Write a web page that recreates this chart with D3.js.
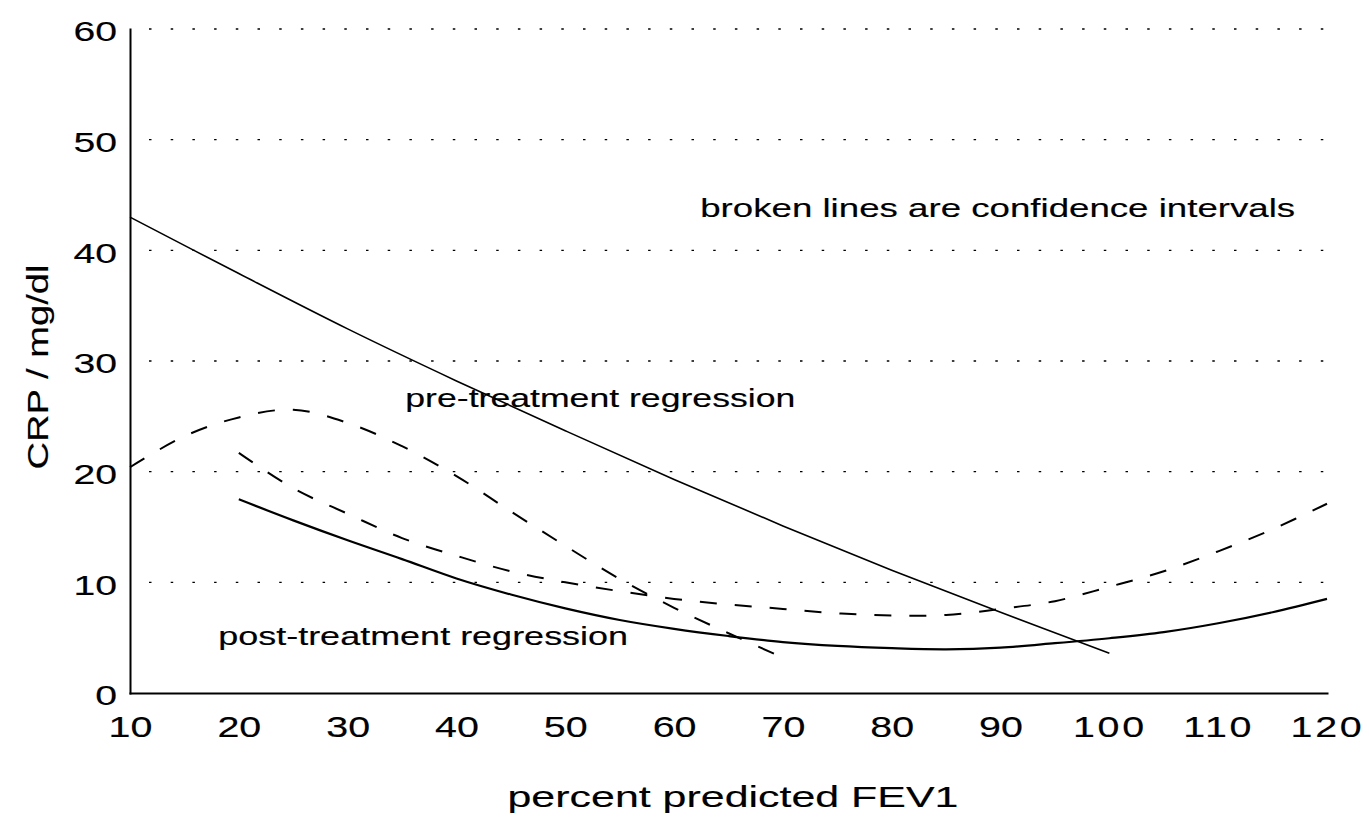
<!DOCTYPE html>
<html>
<head>
<meta charset="utf-8">
<script src="https://cdn.jsdelivr.net/npm/d3@7"></script>
<style>
  html, body { margin: 0; padding: 0; background: #fff; }
  svg text { font-family: "Liberation Sans", Arial, Helvetica, sans-serif; fill: #000; stroke: #000; stroke-width: 0.15px; }
</style>
</head>
<body>
<div id="chart"></div>
<script>
// tick values
const xTicks = [10, 20, 30, 40, 50, 60, 70, 80, 90, 100, 110, 120];
const yTicks = [0, 10, 20, 30, 40, 50, 60];
const gridTicks = [10, 20, 30, 40, 50, 60];

// pre-treatment regression (solid)
const preFev = [10, 20, 30, 40, 50, 60, 70, 80, 90, 100];
const preCrp = [43.0, 37.9, 32.9, 28.2, 23.7, 19.3, 15.1, 11.1, 7.3, 3.6];

// post-treatment regression (solid)
const postFev = [20, 25, 30, 35, 40, 45, 50, 55, 60, 65, 70, 75, 80, 85, 90, 95, 100, 105, 110, 115, 120];
const postCrp = [17.5, 15.6, 13.8, 12.1, 10.35, 8.9, 7.65, 6.6, 5.8, 5.15, 4.6, 4.25, 4.05, 3.95, 4.1, 4.5, 4.95, 5.5, 6.3, 7.3, 8.5];

// confidence interval, hump shaped one (broken)
const ciHumpFev = [10, 15, 20, 25, 30, 35, 40, 45, 50, 55, 60, 65, 70];
const ciHumpCrp = [20.4, 23.2, 24.9, 25.6, 24.4, 22.3, 19.6, 16.4, 13.3, 10.3, 7.7, 5.4, 3.2];

// confidence interval, U shaped one (broken)
const ciBowlFev = [20, 25, 30, 35, 40, 45, 50, 55, 60, 65, 70, 75, 80, 85, 90, 95, 100, 105, 110, 115, 120];
const ciBowlCrp = [21.7, 18.5, 16.2, 14.0, 12.4, 11.0, 10.0, 9.2, 8.5, 8.0, 7.6, 7.2, 7.0, 7.05, 7.6, 8.3, 9.6, 11.0, 12.8, 14.8, 17.1];

const margin = { top: 29, right: 42, bottom: 128, left: 130 };
const W = 1369, H = 821;
const width = W - margin.left - margin.right;
const height = H - margin.top - margin.bottom;

const svg = d3.select('#chart').append('svg')
  .attr('width', W)
  .attr('height', H);

const g = svg.append('g').attr('transform', 'translate(' + margin.left + ',' + margin.top + ')');

// scales
const x = d3.scaleLinear().domain([10, 120]).range([0, width]);
const y = d3.scaleLinear().domain([0, 60]).range([height, 0]);

// dotted grid lines
g.append('g')
  .selectAll('line')
  .data(gridTicks)
  .join('line')
  .attr('x1', 0)
  .attr('x2', width)
  .attr('y1', d => y(d))
  .attr('y2', d => y(d))
  .attr('stroke', '#000')
  .attr('stroke-width', 1.4)
  .attr('stroke-dasharray', '2.5,19.2')
  .attr('stroke-dashoffset', -19);

const STRETCH = 1.4;

// y axis
const yAxis = g.append('g')
  .call(d3.axisLeft(y).tickValues(yTicks).tickSize(0).tickPadding(13 / STRETCH));
yAxis.select('.domain').attr('stroke', '#000').attr('stroke-width', 2);
yAxis.selectAll('text')
  .attr('font-size', 28)
  .attr('y', 3)
  .attr('transform', 'scale(' + STRETCH + ',1)');

// x axis
const xAxis = g.append('g')
  .attr('transform', 'translate(0,' + height + ')')
  .call(d3.axisBottom(x).tickValues(xTicks).tickSize(0).tickPadding(23));
xAxis.select('.domain').attr('stroke', '#000').attr('stroke-width', 2);
xAxis.selectAll('text')
  .attr('font-size', 29)
  .attr('letter-spacing', d => String(d).length > 2 ? 2 : 0)
  .attr('transform', 'scale(1.36,1)');
svg.selectAll('.domain').attr('stroke-linecap', 'square');

// line generator
const line = d3.line()
  .x(d => x(d[0]))
  .y(d => y(d[1]))
  .curve(d3.curveCatmullRom.alpha(0.5));

const series = [
  { xs: preFev, ys: preCrp, width: 1.6, dash: null },
  { xs: postFev, ys: postCrp, width: 2.2, dash: null },
  { xs: ciHumpFev, ys: ciHumpCrp, width: 2, dash: '17,18' },
  { xs: ciBowlFev, ys: ciBowlCrp, width: 2, dash: '17,18' }
];

series.forEach(s => {
  g.append('path')
    .datum(s.xs.map((v, i) => [v, s.ys[i]]))
    .attr('fill', 'none')
    .attr('stroke', '#000')
    .attr('stroke-width', s.width)
    .attr('stroke-dasharray', s.dash)
    .attr('d', line);
});

// annotations, placed in data units
const notes = [
  { text: 'broken lines are confidence intervals', fev: 62.4, crp: 43.0, len: 595 },
  { text: 'pre-treatment regression', fev: 35.3, crp: 25.8, len: 390 },
  { text: 'post-treatment regression', fev: 18.1, crp: 4.34, len: 410 }
];

g.selectAll('.note')
  .data(notes)
  .join('text')
  .attr('class', 'note')
  .attr('x', d => x(d.fev))
  .attr('y', d => y(d.crp))
  .attr('font-size', 25)
  .attr('textLength', d => d.len)
  .attr('lengthAdjust', 'spacingAndGlyphs')
  .text(d => d.text);

// axis titles
svg.append('text')
  .attr('x', 733)
  .attr('y', 807)
  .attr('text-anchor', 'middle')
  .attr('font-size', 30)
  .attr('textLength', 451)
  .attr('lengthAdjust', 'spacingAndGlyphs')
  .text('percent predicted FEV1');

svg.append('text')
  .attr('transform', 'translate(48,367) rotate(-90)')
  .attr('text-anchor', 'middle')
  .attr('font-size', 30)
  .attr('textLength', 205)
  .attr('lengthAdjust', 'spacingAndGlyphs')
  .text('CRP / mg/dl');
</script>
</body>
</html>
